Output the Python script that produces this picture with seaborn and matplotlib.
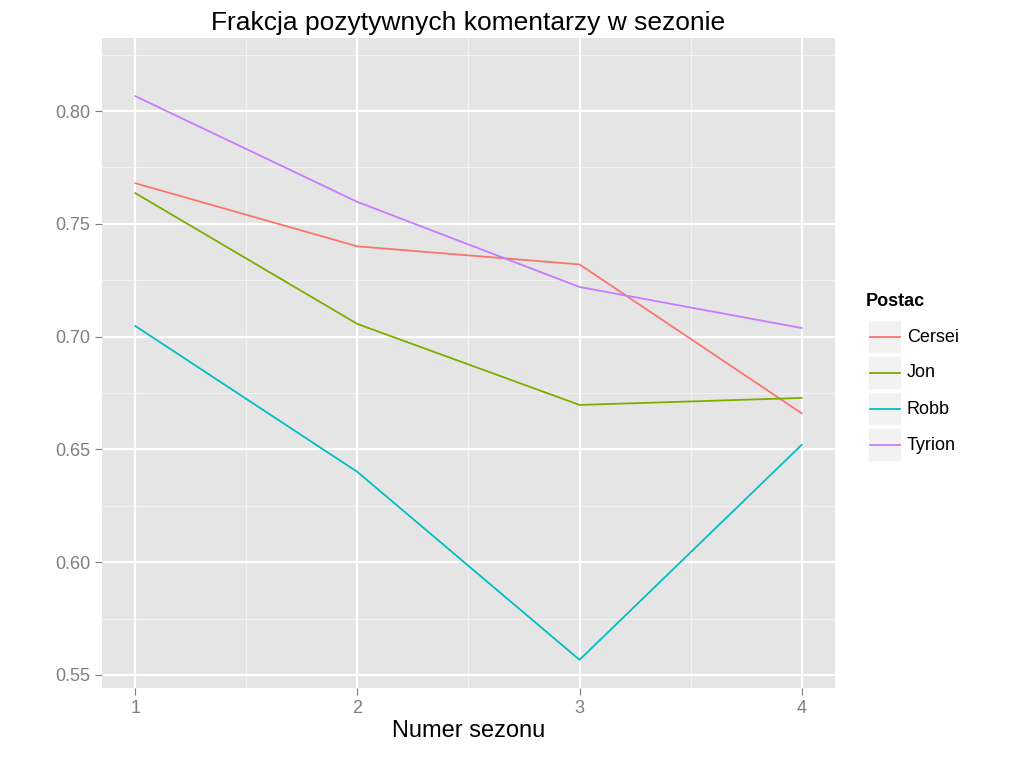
import matplotlib
matplotlib.use("Agg")
import matplotlib.pyplot as plt
from matplotlib.lines import Line2D
from matplotlib.patches import Rectangle
import pandas as pd
import seaborn as sns

plt.rcParams["font.family"] = "Liberation Sans"

# ── Data ──────────────────────────────────────────────────────────────────────
seasons = [1, 2, 3, 4]
cersei  = [0.768, 0.740, 0.732, 0.666]
jon     = [0.7636, 0.7056, 0.6697, 0.6728]
robb    = [0.7047, 0.640, 0.5567, 0.652]
tyrion  = [0.8066, 0.7597, 0.722, 0.7038]
names   = ["Cersei", "Jon", "Robb", "Tyrion"]
colors  = ["#F8766D", "#7CAE00", "#00BFC4", "#C77CFF"]

df = pd.DataFrame({
    "Numer sezonu": seasons * 4,
    "frac": cersei + jon + robb + tyrion,
    "Postac": [n for n in names for _ in seasons],
})

# ── Canvas ────────────────────────────────────────────────────────────────────
W, H = 1024, 767
fig = plt.figure(figsize=(10.24, 7.67), dpi=100, facecolor="white")
ax = fig.add_axes([0.0996, 0.103, 0.7158, 0.8475])
ax.set_facecolor("#E5E5E5")

# grid (ggplot style)
for y in [0.575, 0.625, 0.675, 0.725, 0.775, 0.825]:
    ax.axhline(y, color="#F2F2F2", lw=0.8, zorder=0)
for x in [1.5, 2.5, 3.5]:
    ax.axvline(x, color="#F2F2F2", lw=0.8, zorder=0)
for y in [0.55, 0.60, 0.65, 0.70, 0.75, 0.80]:
    ax.axhline(y, color="white", lw=1.6, zorder=0)
for x in seasons:
    ax.axvline(x, color="white", lw=1.6, zorder=0)

sns.lineplot(data=df, x="Numer sezonu", y="frac", hue="Postac",
             palette=colors, ax=ax, lw=1.3, legend=False, zorder=3)

ax.set_xlim(0.85, 4.15)
ax.set_ylim(0.5442, 0.8324)
ax.set_xticks(seasons)
ax.set_yticks([0.55, 0.60, 0.65, 0.70, 0.75, 0.80])
ax.set_yticklabels(["0.55", "0.60", "0.65", "0.70", "0.75", "0.80"])
ax.tick_params(colors="#7F7F7F", labelcolor="#7F7F7F", labelsize=13, length=5)
for s in ax.spines.values():
    s.set_visible(False)
ax.set_xlabel("Numer sezonu", fontsize=17, labelpad=2)
ax.set_ylabel("")
ax.set_title("Frakcja pozytywnych komentarzy w sezonie", fontsize=19, pad=6)

# ── Legend (ggplot-like keys) ────────────────────────────────────────────────
fig.text(866 / W, 1 - 302 / H, "Postac", fontsize=13, fontweight="bold",
         va="center", ha="left")
for i, (n, c) in enumerate(zip(names, colors)):
    yc = 337 + 36 * i
    fig.add_artist(Rectangle((868 / W, 1 - (yc + 17) / H), 34 / W, 34 / H,
                             transform=fig.transFigure, facecolor="#F2F2F2",
                             edgecolor="white", lw=1.2))
    fig.add_artist(Line2D([870 / W, 900 / W], [1 - yc / H, 1 - yc / H],
                          transform=fig.transFigure, color=c, lw=1.3))
    fig.text(907 / W, 1 - yc / H, n, fontsize=13, va="center", ha="left")

plt.savefig("out.png", dpi=100, facecolor="white")
